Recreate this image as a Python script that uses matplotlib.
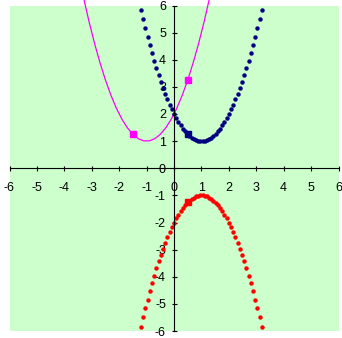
"""Uchta parabola grafigi"""

import matplotlib
matplotlib.use("Agg")
import matplotlib.pyplot as plt

# Ko'k nuqtalar (yuqori parabola) va qizil nuqtalar (pastki parabola)
dot_x = [-1.2, -1.12, -1.04, -0.96, -0.88, -0.80, -0.72, -0.64, -0.56, -0.48,
         -0.40, -0.32, -0.24, -0.16, -0.08, 0.00, 0.08, 0.16, 0.24, 0.32,
         0.40, 0.48, 0.56, 0.64, 0.72, 0.80, 0.88, 0.96, 1.04, 1.12,
         1.20, 1.28, 1.36, 1.44, 1.52, 1.60, 1.68, 1.76, 1.84, 1.92,
         2.00, 2.08, 2.16, 2.24, 2.32, 2.40, 2.48, 2.56, 2.64, 2.72,
         2.80, 2.88, 2.96, 3.04, 3.12, 3.20]
blue_y = [5.84, 5.49, 5.16, 4.84, 4.53, 4.24, 3.96, 3.69, 3.43, 3.19,
          2.96, 2.74, 2.54, 2.35, 2.17, 2.00, 1.85, 1.71, 1.58, 1.46,
          1.36, 1.27, 1.19, 1.13, 1.08, 1.04, 1.01, 1.00, 1.00, 1.01,
          1.04, 1.08, 1.13, 1.19, 1.27, 1.36, 1.46, 1.58, 1.71, 1.85,
          2.00, 2.17, 2.35, 2.54, 2.74, 2.96, 3.19, 3.43, 3.69, 3.96,
          4.24, 4.53, 4.84, 5.16, 5.49, 5.84]
red_y = [-5.84, -5.49, -5.16, -4.84, -4.53, -4.24, -3.96, -3.69, -3.43, -3.19,
         -2.96, -2.74, -2.54, -2.35, -2.17, -2.00, -1.85, -1.71, -1.58, -1.46,
         -1.36, -1.27, -1.19, -1.13, -1.08, -1.04, -1.01, -1.00, -1.00, -1.01,
         -1.04, -1.08, -1.13, -1.19, -1.27, -1.36, -1.46, -1.58, -1.71, -1.85,
         -2.00, -2.17, -2.35, -2.54, -2.74, -2.96, -3.19, -3.43, -3.69, -3.96,
         -4.24, -4.53, -4.84, -5.16, -5.49, -5.84]

# Pushti chiziq
pink_x = [-3.3, -3.1, -2.9, -2.7, -2.5, -2.3, -2.1, -1.9, -1.7, -1.5, -1.3, -1.1,
          -0.9, -0.7, -0.5, -0.3, -0.1, 0.1, 0.3, 0.5, 0.7, 0.9, 1.1, 1.3]
pink_y = [6.29, 5.41, 4.61, 3.89, 3.25, 2.69, 2.21, 1.81, 1.49, 1.25, 1.09, 1.01,
          1.01, 1.09, 1.25, 1.49, 1.81, 2.21, 2.69, 3.25, 3.89, 4.61, 5.41, 6.29]

# Belgilangan nuqtalar (kvadratlar)
pink_sq_x = [-1.5, 0.5]
pink_sq_y = [1.25, 3.25]
blue_sq_x = [0.5]
blue_sq_y = [1.25]
red_sq_x = [0.5]
red_sq_y = [-1.25]

ticks = [-6, -5, -4, -3, -2, -1, 0, 1, 2, 3, 4, 5, 6]

plt.rcParams["font.family"] = ["Liberation Sans", "DejaVu Sans"]
plt.rcParams["axes.unicode_minus"] = False

fig = plt.figure(figsize=(3.42, 3.38), dpi=100)
ax = fig.add_axes([9.5 / 342, 7 / 338, 329 / 342, 325.5 / 338])
ax.set_facecolor("#CCFFCC")

ax.plot(pink_x, pink_y, color="#FF00FF", linewidth=0.9, clip_on=False, zorder=2)
ax.plot(dot_x, blue_y, "o", color="#000080", markersize=3.2, markeredgewidth=0, zorder=3)
ax.plot(dot_x, red_y, "o", color="#FF0000", markersize=3.2, markeredgewidth=0, zorder=3)

ax.plot(pink_sq_x, pink_sq_y, "s", color="#FF00FF", markersize=4.5, zorder=4)
ax.plot(blue_sq_x, blue_sq_y, "s", color="#000080", markersize=4.5, zorder=4)
ax.plot(red_sq_x, red_sq_y, "s", color="#FF0000", markersize=4.5, zorder=4)

ax.set_xlim(-6, 6)
ax.set_ylim(-6, 6)
ax.set_xticks(ticks)
ax.set_yticks(ticks)
ax.set_xticklabels([str(t) for t in ticks])
ax.set_yticklabels([str(t) for t in ticks])

ax.spines["left"].set_position(("data", 0))
ax.spines["bottom"].set_position(("data", 0))
ax.spines["top"].set_visible(False)
ax.spines["right"].set_visible(False)
for s in ("left", "bottom"):
    ax.spines[s].set_linewidth(0.8)
    ax.spines[s].set_color("black")
    ax.spines[s].set_zorder(5)

ax.tick_params(axis="both", direction="inout", length=3.6, width=0.8,
               labelsize=9, colors="black")
ax.tick_params(axis="x", pad=8)
ax.tick_params(axis="y", pad=4)

fig.savefig("out.png", dpi=100)
plt.close(fig)
